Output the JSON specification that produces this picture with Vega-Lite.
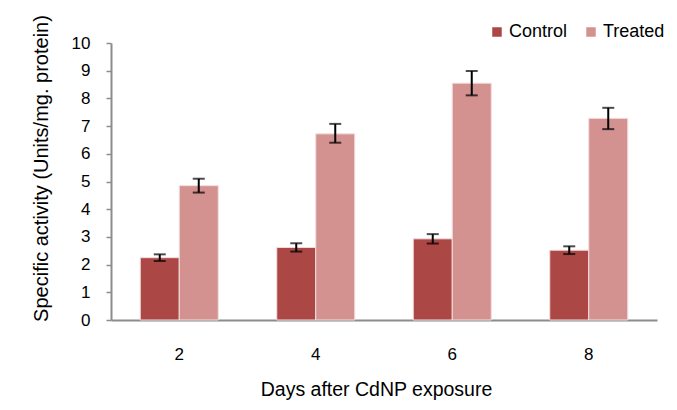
{
  "$schema": "https://vega.github.io/schema/vega-lite/v6.json",
  "width": 546,
  "height": 277,
  "autosize": {"type": "none"},
  "padding": {"left": 111, "top": 43, "right": 20, "bottom": 90},
  "background": "white",
  "config": {
    "font": "Liberation Sans",
    "view": {"stroke": null},
    "axis": {"labelFont": "Liberation Sans", "titleFont": "Liberation Sans", "labelColor": "#000", "titleColor": "#000", "titleFontWeight": "normal", "domainColor": "#8c8c8c", "tickColor": "#8c8c8c", "domainWidth": 2, "tickWidth": 1.5, "grid": false}
  },
  "data": {
    "values": [
      {"day": "2", "group": "Control", "value": 2.25, "lower": 2.13, "upper": 2.37},
      {"day": "2", "group": "Treated", "value": 4.85, "lower": 4.6, "upper": 5.1},
      {"day": "4", "group": "Control", "value": 2.62, "lower": 2.47, "upper": 2.77},
      {"day": "4", "group": "Treated", "value": 6.72, "lower": 6.4, "upper": 7.08},
      {"day": "6", "group": "Control", "value": 2.93, "lower": 2.76, "upper": 3.1},
      {"day": "6", "group": "Treated", "value": 8.55, "lower": 8.11, "upper": 8.99},
      {"day": "8", "group": "Control", "value": 2.52, "lower": 2.38, "upper": 2.66},
      {"day": "8", "group": "Treated", "value": 7.28, "lower": 6.89, "upper": 7.66}
    ]
  },
  "encoding": {
    "x": {
      "field": "day", "type": "nominal", "sort": ["2", "4", "6", "8"],
      "scale": {"paddingInner": 0.4286, "paddingOuter": 0.2143},
      "axis": {"title": "Days after CdNP exposure", "labelAngle": 0, "labelFontSize": 17, "titleFontSize": 19.5, "titleX": 265, "ticks": false, "labelPadding": 26, "titlePadding": 18}
    },
    "xOffset": {"field": "group", "type": "nominal", "sort": ["Control", "Treated"], "scale": {"paddingInner": 0, "paddingOuter": 0}},
    "y": {
      "field": "value", "type": "quantitative",
      "scale": {"domain": [0, 10], "nice": false},
      "axis": {"title": "Specific activity (Units/mg. protein)", "values": [0, 1, 2, 3, 4, 5, 6, 7, 8, 9, 10], "labelOverlap": false, "labelSeparation": 0, "labelBound": false, "labelFontSize": 17, "titleFontSize": 20, "titleY": 125, "tickSize": 5, "labelPadding": 16, "titlePadding": 20}
    }
  },
  "layer": [
    {
      "mark": {"type": "bar", "stroke": "#f3dede", "strokeWidth": 1},
      "encoding": {
        "color": {
          "field": "group", "type": "nominal", "sort": ["Control", "Treated"],
          "scale": {"domain": ["Control", "Treated"], "range": ["#AB4744", "#D39190"]},
          "legend": {"title": null, "orient": "none", "legendX": 377, "legendY": -20, "direction": "horizontal", "symbolType": "square", "symbolSize": 90, "symbolStrokeWidth": 0, "labelFontSize": 18, "labelFont": "Liberation Sans", "labelColor": "#000", "labelOffset": 3, "columnPadding": 14}
        }
      }
    },
    {
      "mark": {"type": "rule", "color": "#000", "strokeWidth": 2},
      "encoding": {
        "y": {"field": "lower", "type": "quantitative"},
        "y2": {"field": "upper"}
      }
    },
    {
      "mark": {"type": "tick", "color": "#000", "thickness": 2, "size": 12},
      "encoding": {"y": {"field": "lower", "type": "quantitative"}}
    },
    {
      "mark": {"type": "tick", "color": "#000", "thickness": 2, "size": 12},
      "encoding": {"y": {"field": "upper", "type": "quantitative"}}
    }
  ]
}
